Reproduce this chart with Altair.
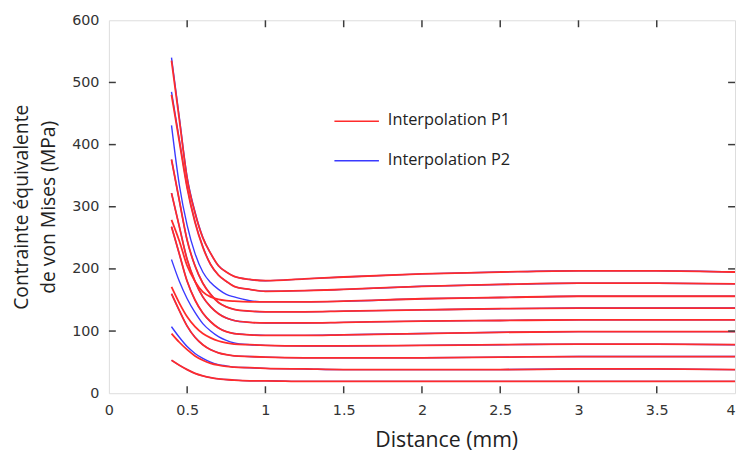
import altair as alt
import pandas as pd

# Distance (mm) sample points
distance = [0.4, 0.45, 0.5, 0.55, 0.6, 0.65, 0.7, 0.75, 0.8, 0.9, 1.0, 1.25, 1.5, 2.0, 2.5, 3.0, 3.5, 4.0]

# Interpolation P1 (red) curves
p1_a = [535, 440, 345, 290, 250, 225, 205, 195, 188, 183, 181, 184, 187, 192, 195, 197, 197, 195]
p1_b = [480, 405, 330, 275, 235, 207, 190, 180, 172, 167, 164, 165, 167, 172, 175, 177, 177, 176]
p1_c = [279, 245, 205, 180, 163, 155, 151, 149, 148, 147, 147, 147, 148, 152, 154, 156, 156, 156]
p1_d = [376, 310, 246, 205, 177, 159, 146, 139, 135, 132, 131, 131, 132, 134, 136, 137, 137, 137]
p1_e = [322, 268, 215, 180, 155, 139, 128, 121, 117, 114, 113, 113, 114, 116, 117, 118, 118, 118]
p1_f = [268, 224, 180, 150, 129, 115, 105, 99, 96, 94, 93, 93, 94, 96, 98, 99, 99, 99]
p1_g = [171, 145, 123, 107, 96, 89, 84, 81, 79, 78, 77, 76, 76, 77, 78, 79, 79, 78]
p1_h = [160, 133, 108, 90, 78, 70, 65, 62, 60, 59, 58, 57, 57, 57, 58, 59, 59, 59]
p1_i = [96, 82, 70, 60, 53, 48, 45, 43, 42, 41, 40, 39, 38, 38, 38, 39, 39, 38]
p1_j = [53, 45, 38, 32, 28, 25, 23, 22, 21, 20, 20, 19, 19, 19, 19, 19, 19, 19]

# Interpolation P2 (blue) curves
p2_a = [540, 444, 348, 292, 251, 225, 205, 195, 188, 183, 181, 184, 187, 192, 195, 197, 197, 195]
p2_b = [485, 408, 332, 276, 236, 207, 190, 180, 172, 167, 164, 165, 167, 172, 175, 177, 177, 176]
p2_c = [431, 335, 270, 225, 195, 178, 167, 159, 155, 149, 147, 147, 148, 152, 154, 156, 156, 156]
p2_d = [376, 310, 246, 205, 177, 159, 146, 139, 135, 132, 131, 131, 132, 134, 136, 137, 137, 137]
p2_e = [322, 268, 215, 180, 155, 139, 128, 121, 117, 114, 113, 113, 114, 116, 117, 118, 118, 118]
p2_f = [268, 224, 180, 150, 129, 115, 105, 99, 96, 94, 93, 93, 94, 96, 98, 99, 99, 99]
p2_g = [215, 180, 152, 130, 112, 100, 91, 85, 81, 78, 77, 76, 76, 77, 78, 79, 79, 78]
p2_h = [160, 133, 108, 90, 78, 70, 65, 62, 60, 59, 58, 57, 57, 57, 58, 59, 59, 59]
p2_i = [107, 90, 75, 64, 56, 50, 46, 44, 42, 41, 40, 39, 38, 38, 38, 39, 39, 38]
p2_j = [53, 45, 38, 32, 28, 25, 23, 22, 21, 20, 20, 19, 19, 19, 19, 19, 19, 19]

x_ticks = [0, 0.5, 1, 1.5, 2, 2.5, 3, 3.5, 4]
y_ticks = [0, 100, 200, 300, 400, 500, 600]
legend_labels = ["Interpolation P1", "Interpolation P2"]

RED = "#ff2b2b"
BLUE = "#3a3aff"
FRAME = "#3c3c3c"
W, H = 633, 377

p1_curves = [p1_a, p1_b, p1_c, p1_d, p1_e, p1_f, p1_g, p1_h, p1_i, p1_j]
p2_curves = [p2_a, p2_b, p2_c, p2_d, p2_e, p2_f, p2_g, p2_h, p2_i, p2_j]

rows = []
for k, curve in enumerate(p1_curves):
    for xv, yv in zip(distance, curve):
        rows.append({"x": xv, "y": yv, "curve": f"P1_{k}", "method": "P1"})
for k, curve in enumerate(p2_curves):
    for xv, yv in zip(distance, curve):
        rows.append({"x": xv, "y": yv, "curve": f"P2_{k}", "method": "P2"})
df = pd.DataFrame(rows)

xscale = alt.Scale(domain=[0, 4], nice=False, zero=False)
yscale = alt.Scale(domain=[0, 600], nice=False)

x_axis = alt.Axis(
    values=x_ticks, format="~g", domain=False, ticks=False, grid=False,
    labelPadding=11, labelFont="DejaVu Sans", labelFontSize=14.5, labelColor="#333",
    labelAlign={"condition": {"test": "datum.value >= 4", "value": "right"}, "value": "center"},
    title="Distance (mm)", titleFont="Open Sans", titleFontSize=21.5, titleFontWeight="normal",
    titleColor="#222", titleX=341, titleY=54, titleAlign="center", titleBaseline="alphabetic",
    labelFlush=False,
)
y_axis = alt.Axis(
    values=y_ticks, domain=False, ticks=False, grid=False,
    labelPadding=10, labelFont="DejaVu Sans", labelFontSize=14.5, labelColor="#333",
    title=["Contrainte équivalente", "de von Mises (MPa)"], titleFont="Open Sans",
    titleFontSize=19.5, titleFontWeight="normal", titleColor="#222", titleLineHeight=28,
    titlePadding=13,
)

blue_lines = alt.Chart(df).transform_filter(alt.datum.method == "P2").mark_line(
    color=BLUE, strokeWidth=1.4, interpolate="monotone"
).encode(
    x=alt.X("x:Q", scale=xscale, axis=x_axis),
    y=alt.Y("y:Q", scale=yscale, axis=y_axis),
    detail="curve:N",
)
red_lines = alt.Chart(df).transform_filter(alt.datum.method == "P1").mark_line(
    color=RED, strokeWidth=1.8, interpolate="monotone"
).encode(
    x=alt.X("x:Q", scale=xscale),
    y=alt.Y("y:Q", scale=yscale),
    detail="curve:N",
)

xt = pd.DataFrame({"t": x_ticks[1:-1]})
yt = pd.DataFrame({"t": y_ticks[1:-1]})
tick_bottom = alt.Chart(xt).mark_rule(color=FRAME, strokeWidth=1.5).encode(
    x=alt.X("t:Q", scale=xscale), y=alt.value(H), y2=alt.value(H - 7))
tick_top = alt.Chart(xt).mark_rule(color=FRAME, strokeWidth=1.5).encode(
    x=alt.X("t:Q", scale=xscale), y=alt.value(0), y2=alt.value(7))
tick_left = alt.Chart(yt).mark_rule(color=FRAME, strokeWidth=1.5).encode(
    y=alt.Y("t:Q", scale=yscale), x=alt.value(0), x2=alt.value(7))
tick_right = alt.Chart(yt).mark_rule(color=FRAME, strokeWidth=1.5).encode(
    y=alt.Y("t:Q", scale=yscale), x=alt.value(W), x2=alt.value(W - 7))

leg1 = pd.DataFrame({"label": [legend_labels[0]]})
leg2 = pd.DataFrame({"label": [legend_labels[1]]})
leg_line1 = alt.Chart(leg1).mark_rule(color=RED, strokeWidth=1.5).encode(
    x=alt.value(228), x2=alt.value(273), y=alt.value(102))
leg_line2 = alt.Chart(leg2).mark_rule(color=BLUE, strokeWidth=1.5).encode(
    x=alt.value(228), x2=alt.value(273), y=alt.value(142))
leg_text1 = alt.Chart(leg1).mark_text(
    align="left", baseline="middle", font="Open Sans", fontSize=16.5, color="#222"
).encode(text="label:N", x=alt.value(282), y=alt.value(101))
leg_text2 = alt.Chart(leg2).mark_text(
    align="left", baseline="middle", font="Open Sans", fontSize=16.5, color="#222"
).encode(text="label:N", x=alt.value(282), y=alt.value(141))

chart = alt.layer(
    blue_lines, red_lines, tick_bottom, tick_top, tick_left, tick_right,
    leg_line1, leg_line2, leg_text1, leg_text2,
).properties(
    width=W, height=H,
    autosize=alt.AutoSizeParams(type="none"),
    padding={"left": 102, "top": 10, "right": 2, "bottom": 57},
).configure_view(
    stroke=FRAME, strokeWidth=1.6
).configure(background="white")

chart.save("out.html", embed_options={"renderer": "svg", "actions": False})
